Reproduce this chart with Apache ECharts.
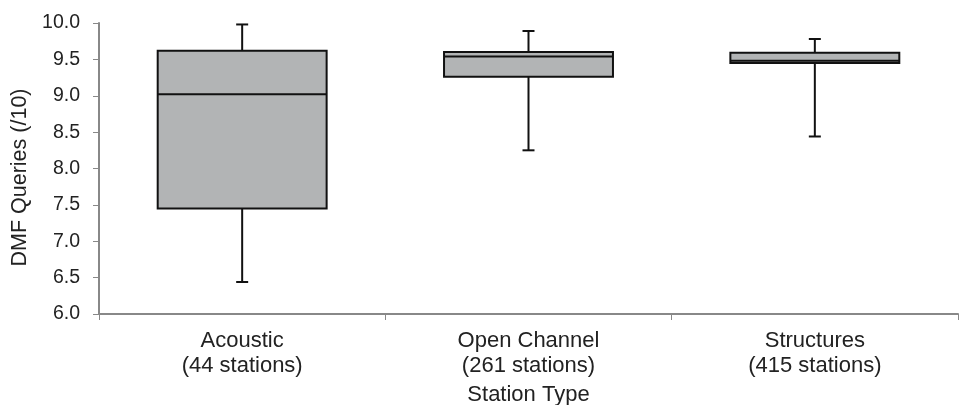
<!DOCTYPE html>
<html><head><meta charset="utf-8">
<script src="https://cdn.jsdelivr.net/npm/echarts@6/dist/echarts.min.js"></script>
<style>html,body{margin:0;padding:0;background:#fff}#c{width:969px;height:405px}</style>
</head><body><div id="c"></div>
<script>
const categories = ['Acoustic\n(44 stations)', 'Open Channel\n(261 stations)', 'Structures\n(415 stations)'];
const whiskerLow = [6.44, 8.25, 8.44];
const q1 = [7.45, 9.26, 9.45];
const median = [9.02, 9.54, 9.48];
const q3 = [9.62, 9.60, 9.59];
const whiskerHigh = [9.98, 9.89, 9.78];
const yTicks = [6.0, 6.5, 7.0, 7.5, 8.0, 8.5, 9.0, 9.5, 10.0];

const data = categories.map((c, i) => [i, whiskerLow[i], q1[i], median[i], q3[i], whiskerHigh[i]]);
const chart = echarts.init(document.getElementById('c'));
const font = 'Liberation Sans, Arial, sans-serif';
chart.setOption({
  animation: false,
  grid: { left: 99, right: 11, top: 23, bottom: 91, containLabel: false, outerBoundsMode: 'none' },
  xAxis: {
    type: 'category', data: categories,
    name: 'Station Type', nameLocation: 'middle', nameGap: 70,
    nameTextStyle: { fontFamily: font, fontSize: 22, color: '#222' },
    axisLine: { lineStyle: { color: '#888', width: 2 } },
    axisTick: { show: true, length: 6, lineStyle: { color: '#888', width: 1 } },
    axisLabel: { fontFamily: font, fontSize: 22, color: '#222', lineHeight: 25, margin: 14 }
  },
  yAxis: {
    type: 'value', min: yTicks[0], max: yTicks[yTicks.length - 1], interval: 0.5,
    name: 'DMF Queries (/10)', nameLocation: 'middle', nameGap: 66,
    nameTextStyle: { fontFamily: font, fontSize: 21.5, color: '#222', padding: [0, 18, 0, 0] },
    axisLine: { show: true, lineStyle: { color: '#888', width: 2 } },
    axisTick: { show: true, length: 6, lineStyle: { color: '#888', width: 1 } },
    splitLine: { show: false },
    axisLabel: { fontFamily: font, fontSize: 19.5, color: '#222', margin: 19, formatter: v => v.toFixed(1) }
  },
  series: [{
    type: 'custom',
    data: data,
    encode: { x: 0, y: [1, 2, 3, 4, 5] },
    renderItem: function (params, api) {
      const i = api.value(0);
      const w = api.size([1, 0])[0] * 0.59;
      const cap = 12;
      const pLo = api.coord([i, api.value(1)]);
      const pQ1 = api.coord([i, api.value(2)]);
      const pMed = api.coord([i, api.value(3)]);
      const pQ3 = api.coord([i, api.value(4)]);
      const pHi = api.coord([i, api.value(5)]);
      const x = pQ1[0];
      const ls = { stroke: '#111', lineWidth: 2 };
      return {
        type: 'group',
        children: [
          { type: 'line', shape: { x1: x, y1: pQ3[1], x2: x, y2: pHi[1] }, style: ls },
          { type: 'line', shape: { x1: x - cap / 2, y1: pHi[1], x2: x + cap / 2, y2: pHi[1] }, style: ls },
          { type: 'line', shape: { x1: x, y1: pQ1[1], x2: x, y2: pLo[1] }, style: ls },
          { type: 'line', shape: { x1: x - cap / 2, y1: pLo[1], x2: x + cap / 2, y2: pLo[1] }, style: ls },
          { type: 'rect', shape: { x: x - w / 2, y: pQ3[1], width: w, height: pQ1[1] - pQ3[1] },
            style: { fill: '#b2b4b5', stroke: '#111', lineWidth: 2 } },
          { type: 'line', shape: { x1: x - w / 2, y1: pMed[1], x2: x + w / 2, y2: pMed[1] }, style: ls }
        ]
      };
    }
  }]
});
</script></body></html>
